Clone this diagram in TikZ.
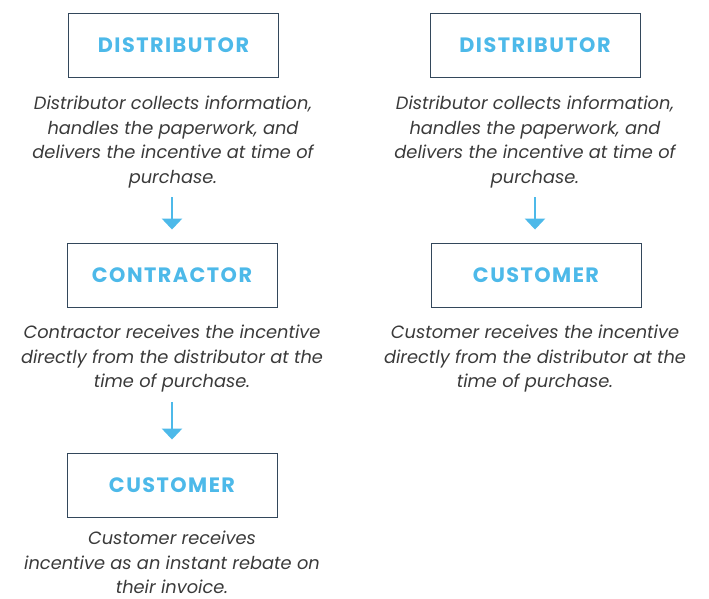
\documentclass[tikz,border=0pt]{standalone}
\usepackage{fontspec}
\setmainfont{Poppins}
\usetikzlibrary{arrows.meta,positioning}
\definecolor{skyblue}{HTML}{4DB9E9}
\definecolor{slate}{HTML}{33475B}
\definecolor{inkgray}{HTML}{3A3A3A}

\begin{document}
\begin{tikzpicture}[x=1pt,y=1pt]
	\tikzstyle{party}=[draw=slate,line width=0.9pt,minimum width=210pt,minimum height=64pt,font=\fontsize{20.8}{22}\selectfont\bfseries\addfontfeatures{LetterSpace=7},text=skyblue]
	\tikzstyle{note}=[align=center,inner sep=0pt,text=inkgray,font=\fontsize{17.8}{24.5}\selectfont\itshape]
	\tikzstyle{flow}=[skyblue,line width=2.6pt,-{Triangle[length=11pt,width=20pt]},shorten <=9pt,shorten >=13pt]
	\useasboundingbox (0,0) rectangle (709,599);
	% left chain
	\node (dist1) at (173.5,554) [party] {DISTRIBUTOR};
	\node (dist1txt) at (173,457) [note] {Distributor collects information,\\ handles the paperwork, and\\ delivers the incentive at time of\\ purchase.};
	\node (contr) at (172,324) [party] {CONTRACTOR};
	\node (contrtxt) at (172,240) [note] {Contractor receives the incentive\\ directly from the distributor at the\\ time of purchase.};
	\node (cust1) at (172,114) [party] {CUSTOMER};
	\node (cust1txt) at (172,36.5) [note] {Customer receives\\ incentive as an instant rebate on\\ their invoice.};
	% right chain
	\node (dist2) at (535,554) [party] {DISTRIBUTOR};
	\node (dist2txt) at (535,457) [note] {Distributor collects information,\\ handles the paperwork, and\\ delivers the incentive at time of\\ purchase.};
	\node (cust2) at (536,324) [party] {CUSTOMER};
	\node (cust2txt) at (535,240) [note] {Customer receives the incentive\\ directly from the distributor at the\\ time of purchase.};
	\draw [flow] (dist1txt.south -| contr.north) -- (contr.north);
	\draw [flow] (contrtxt.south -| cust1.north) -- (cust1.north);
	\draw [flow] (dist2txt.south) -- (dist2txt.south |- cust2.north);
\end{tikzpicture}
\end{document}
